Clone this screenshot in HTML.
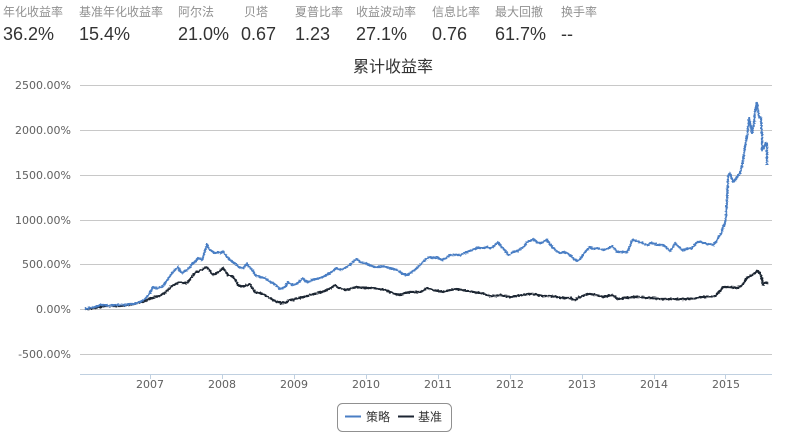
<!DOCTYPE html>
<html><head><meta charset="utf-8"><style>
html,body{margin:0;padding:0;background:#fff;}
body{width:785px;height:438px;position:relative;overflow:hidden;font-family:"Liberation Sans","Noto Sans CJK SC",sans-serif;}
.l{position:absolute;top:5px;font-size:12px;color:#909090;white-space:nowrap;line-height:14px;}
.v{position:absolute;top:24px;font-size:18px;color:#333;white-space:nowrap;line-height:20px;}
svg{position:absolute;left:0;top:0;}
</style></head><body>
<div class="l" style="left:3px">年化收益率</div>
<div class="l" style="left:79px">基准年化收益率</div>
<div class="l" style="left:178px">阿尔法</div>
<div class="l" style="left:244px">贝塔</div>
<div class="l" style="left:295px">夏普比率</div>
<div class="l" style="left:356px">收益波动率</div>
<div class="l" style="left:432px">信息比率</div>
<div class="l" style="left:495px">最大回撤</div>
<div class="l" style="left:561px">换手率</div>
<div class="v" style="left:3px">36.2%</div>
<div class="v" style="left:79px">15.4%</div>
<div class="v" style="left:178px">21.0%</div>
<div class="v" style="left:241px">0.67</div>
<div class="v" style="left:295px">1.23</div>
<div class="v" style="left:356px">27.1%</div>
<div class="v" style="left:432px">0.76</div>
<div class="v" style="left:495px">61.7%</div>
<div class="v" style="left:561px">--</div>
<svg width="785" height="438" viewBox="0 0 785 438" xmlns="http://www.w3.org/2000/svg">
<defs>
<filter id="jit" x="-5%" y="-20%" width="110%" height="140%">
<feTurbulence type="fractalNoise" baseFrequency="0.45 0.9" numOctaves="1" seed="3" result="n"/>
<feDisplacementMap in="SourceGraphic" in2="n" scale="3" xChannelSelector="R" yChannelSelector="G"/>
</filter>
</defs>
<text x="393" y="72" text-anchor="middle" font-family="Liberation Sans, Noto Sans CJK SC, sans-serif" font-size="16" fill="#333">累计收益率</text>
<g stroke="#C8C8C8" stroke-width="1">
<line x1="80" y1="85.5" x2="772" y2="85.5"/>
<line x1="80" y1="130.5" x2="772" y2="130.5"/>
<line x1="80" y1="175.5" x2="772" y2="175.5"/>
<line x1="80" y1="220.5" x2="772" y2="220.5"/>
<line x1="80" y1="264.5" x2="772" y2="264.5"/>
<line x1="80" y1="309.5" x2="772" y2="309.5"/>
<line x1="80" y1="354.5" x2="772" y2="354.5"/>
</g>
<line x1="80" y1="374.5" x2="772" y2="374.5" stroke="#C0D0E0" stroke-width="1"/>
<g stroke="#C0D0E0" stroke-width="1">
<line x1="150.5" y1="374" x2="150.5" y2="379"/>
<line x1="222.5" y1="374" x2="222.5" y2="379"/>
<line x1="294.5" y1="374" x2="294.5" y2="379"/>
<line x1="366.5" y1="374" x2="366.5" y2="379"/>
<line x1="438.5" y1="374" x2="438.5" y2="379"/>
<line x1="510.5" y1="374" x2="510.5" y2="379"/>
<line x1="582.5" y1="374" x2="582.5" y2="379"/>
<line x1="654.5" y1="374" x2="654.5" y2="379"/>
<line x1="725.5" y1="374" x2="725.5" y2="379"/>
</g>
<g font-family="DejaVu Sans, sans-serif" font-size="11" fill="#606060" text-anchor="end">
<text x="71" y="89">2500.00%</text>
<text x="71" y="134">2000.00%</text>
<text x="71" y="179">1500.00%</text>
<text x="71" y="224">1000.00%</text>
<text x="71" y="268">500.00%</text>
<text x="71" y="313">0.00%</text>
<text x="71" y="358">-500.00%</text>
</g>
<g font-family="DejaVu Sans, sans-serif" font-size="11" fill="#606060" text-anchor="middle">
<text x="150" y="388">2007</text>
<text x="222" y="388">2008</text>
<text x="294" y="388">2009</text>
<text x="366" y="388">2010</text>
<text x="438" y="388">2011</text>
<text x="510" y="388">2012</text>
<text x="582" y="388">2013</text>
<text x="654" y="388">2014</text>
<text x="726" y="388">2015</text>
</g>
<g filter="url(#jit)">
<polyline fill="none" stroke="#1c2533" stroke-width="2.2" stroke-linejoin="round" points="85,309 95,308 105,306 113,306 120,306 130,305 138,303 143,302 147,300 151,298 155,297 159,296 163,294 168,290 173,285 176,284 180,282 183,283 186,283 188,282 191,278 195,273 199,271 203,269 207,267 210,271 213,275 217,273 220,271 223,268 226,272 228,275 231,276 233,277 236,281 238,285 241,286 243,287 246,285 248,285 250,284 252,288 255,292 259,293 263,294 268,297 273,300 278,302 282,303 286,302 290,300 296,299 303,297 310,295 317,293 322,292 327,290 331,288 335,285 337,287 340,288 343,289 347,290 352,288 357,287 362,288 367,288 373,288 380,289 385,290 390,292 395,294 400,295 405,293 410,292 415,292 420,292 424,290 427,288 430,289 433,290 438,291 443,292 450,290 457,289 462,290 467,291 473,292 480,293 485,294 490,296 495,296 500,295 505,296 510,297 516,296 523,295 528,294 533,294 538,295 543,296 550,296 557,297 563,298 570,298 575,300 580,297 585,295 590,294 596,295 603,297 608,296 612,295 615,297 618,299 625,298 633,297 640,297 647,298 653,298 660,299 667,299 673,299 680,299 687,299 693,299 700,297 707,297 715,296 718,293 721,290 723,287 726,287 730,287 735,288 740,287 743,284 747,278 750,276 752,275 755,273 757,271 760,273 762,279 763,285 765,283 767,282 768,284"/>
<polyline fill="none" stroke="#4a7ec4" stroke-width="2.2" stroke-linejoin="round" points="85,309 90,308 95,307 100,305 105,305 110,306 115,305 120,305 125,305 130,304 133,304 138,303 142,301 146,298 150,293 153,287 157,289 160,287 162,287 165,283 168,279 172,273 175,270 178,267 180,271 182,273 185,271 187,270 190,267 193,263 196,261 198,258 200,259 202,260 204,254 207,244 209,249 212,251 215,253 218,252 221,253 223,251 225,254 227,257 230,260 233,262 237,265 240,268 243,268 245,266 247,264 250,268 253,271 255,275 260,277 265,278 269,281 273,283 277,286 280,289 283,288 285,287 288,282 290,284 293,285 296,284 298,283 301,280 303,278 305,281 308,282 312,280 316,279 320,278 325,276 330,273 334,270 337,268 340,270 343,269 345,268 348,266 350,265 354,261 357,259 360,262 363,263 365,263 369,265 372,266 375,267 377,267 380,267 383,266 387,267 390,268 394,269 397,270 400,272 403,274 407,275 410,273 413,271 417,268 421,264 425,260 428,258 430,257 433,258 437,257 440,259 442,260 446,258 450,255 455,255 460,255 463,254 467,252 472,250 477,248 482,248 487,247 490,248 493,247 496,244 498,242 500,245 503,248 506,252 508,255 511,254 513,252 517,251 522,248 525,245 527,242 530,241 533,239 536,241 538,243 541,243 543,242 545,241 547,240 550,244 553,248 557,251 560,253 564,252 567,253 571,256 574,259 577,261 580,259 583,255 586,251 590,247 594,249 597,248 600,249 603,250 607,249 612,246 615,249 617,252 622,252 627,252 630,246 632,240 636,241 640,242 644,244 647,245 651,243 655,244 659,245 663,245 667,248 670,251 673,247 675,243 678,246 682,250 687,249 692,248 695,245 697,242 700,242 703,243 708,244 713,245 716,242 718,238 721,234 723,227 725,223 726,217 727,200 728,177 730,173 732,179 733,182 735,180 737,177 740,173 742,166 743,160 745,147 747,137 748,128 749,118 751,127 752,133 753,128 754,123 755,112 756,107 757,103 758,110 759,117 761,118 762,135 762,150 764,147 766,143 767,144 767,165"/>
</g>
<rect x="337.5" y="403.5" width="114" height="28" rx="5" ry="5" fill="#fff" stroke="#909090" stroke-width="1"/>
<line x1="345" y1="416.5" x2="361" y2="416.5" stroke="#4a7ec4" stroke-width="2"/>
<text x="366" y="421" font-family="Liberation Sans, Noto Sans CJK SC, sans-serif" font-size="12" fill="#333">策略</text>
<line x1="398" y1="416.5" x2="414" y2="416.5" stroke="#1c2533" stroke-width="2"/>
<text x="418" y="421" font-family="Liberation Sans, Noto Sans CJK SC, sans-serif" font-size="12" fill="#333">基准</text>
</svg>
</body></html>
